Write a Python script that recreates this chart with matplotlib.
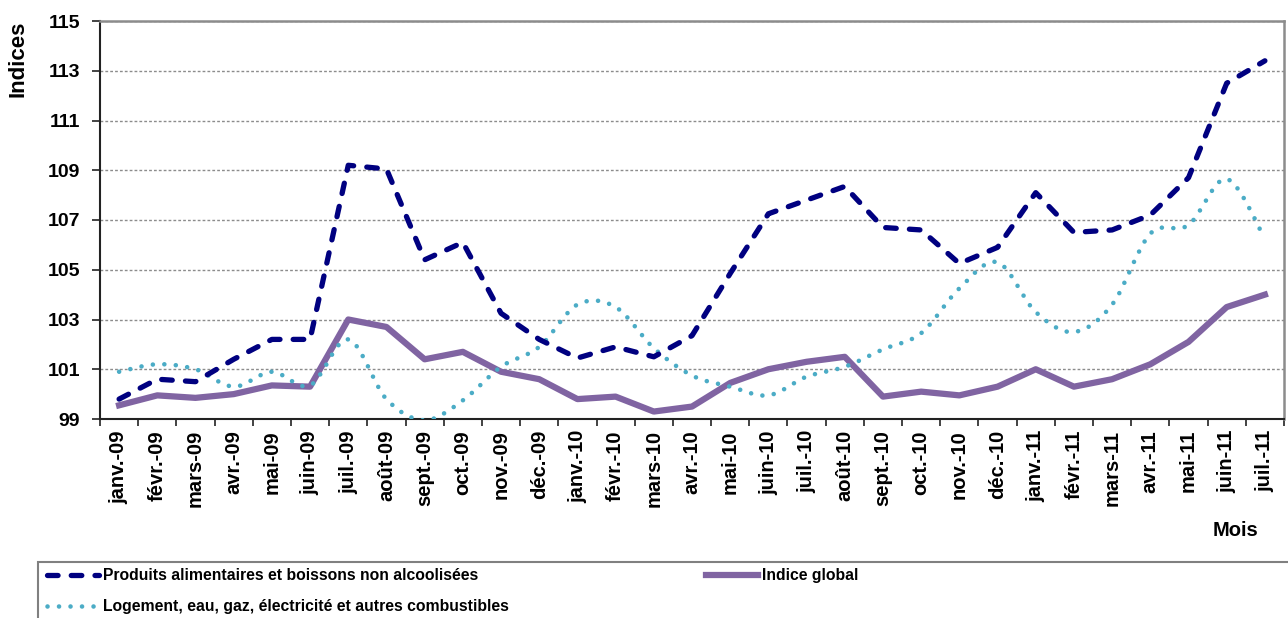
import numpy as np
import matplotlib
matplotlib.use("Agg")
import matplotlib.pyplot as plt
from matplotlib.path import Path
from matplotlib.patches import PathPatch, Rectangle
from matplotlib.lines import Line2D
from matplotlib.font_manager import FontProperties

plt.rcParams['font.family'] = ['Liberation Sans', 'DejaVu Sans']

mois = ["janv.-09", "févr.-09", "mars-09", "avr.-09", "mai-09", "juin-09", "juil.-09",
        "août-09", "sept.-09", "oct.-09", "nov.-09", "déc.-09",
        "janv.-10", "févr.-10", "mars-10", "avr.-10", "mai-10", "juin-10", "juil.-10",
        "août-10", "sept.-10", "oct.-10", "nov.-10", "déc.-10",
        "janv.-11", "févr.-11", "mars-11", "avr.-11", "mai-11", "juin-11", "juil.-11"]

alimentaire = [99.8, 100.6, 100.5, 101.4, 102.2, 102.2, 109.2, 109.05, 105.4, 106.1, 103.25, 102.2,
               101.45, 101.9, 101.5, 102.35, 104.85, 107.25, 107.8, 108.35, 106.7, 106.6, 105.25, 105.9,
               108.1, 106.5, 106.6, 107.2, 108.7, 112.5, 113.4]
logement = [100.9, 101.2, 101.0, 100.3, 100.9, 100.35, 102.2, 99.8, 98.95, 99.75, 101.1, 101.9,
            103.6, 103.5, 101.85, 100.75, 100.3, 99.95, 100.7, 101.1, 101.8, 102.45, 104.25, 105.3,
            103.3, 102.5, 103.6, 106.45, 106.8, 108.65, 106.25]
indice_global = [99.55, 99.95, 99.85, 100.0, 100.35, 100.3, 103.0, 102.7, 101.4, 101.7, 100.9, 100.6,
                 99.8, 99.9, 99.3, 99.5, 100.45, 101.0, 101.3, 101.5, 99.9, 100.1, 99.95, 100.3,
                 101.0, 100.3, 100.6, 101.2, 102.1, 103.5, 104.0]

labels = ["Produits alimentaires et boissons non alcoolisées",
          "Logement, eau, gaz, électricité et autres combustibles",
          "Indice global"]

c_alim = '#000080'
c_log = '#4BACC6'
c_glob = '#8064A2'


def smooth_path(xs, ys):
    # courbe lissée façon Excel (Bezier passant par les points)
    pts = np.column_stack([xs, ys]).astype(float)
    n = len(pts)
    verts = [pts[0]]
    codes = [Path.MOVETO]
    for i in range(n - 1):
        p0 = pts[i - 1] if i > 0 else pts[i]
        p1 = pts[i]
        p2 = pts[i + 1]
        p3 = pts[i + 2] if i + 2 < n else pts[i + 1]
        verts += [p1 + (p2 - p0) / 6, p2 - (p3 - p1) / 6, p2]
        codes += [Path.CURVE4] * 3
    return Path(verts, codes)


fig = plt.figure(figsize=(12.88, 6.18), dpi=100)
ax = fig.add_axes([100 / 1288, 199 / 618, 1184 / 1288, 398 / 618])

x = np.arange(len(mois))

dots = (0, (0.01, 2.5))
dashes = (0, (2.0, 2.5))

ax.add_patch(PathPatch(smooth_path(x, logement), fill=False, edgecolor=c_log, lw=3.3,
                       linestyle=dots, capstyle='round', zorder=3))
h_alim, = ax.plot(x, alimentaire, color=c_alim, lw=3.8, linestyle=dashes,
                  dash_capstyle='round', zorder=4)
h_glob, = ax.plot(x, indice_global, color=c_glob, lw=4.5, solid_joinstyle='round', zorder=2)
h_log = Line2D([], [], color=c_log, lw=3.3, linestyle=dots, dash_capstyle='round')

ax.set_xlim(-0.5, len(mois) - 0.5)
ax.set_ylim(99, 115)
ax.set_yticks(np.arange(99, 116, 2))
ax.set_xticks(np.arange(-0.5, len(mois), 1))
ax.set_xticklabels([])
ax.set_xticks(x, minor=True)
ax.set_xticklabels(mois, minor=True, rotation=90, fontweight='bold', fontsize=14.5)
ax.tick_params(axis='x', which='major', length=5, width=1.2, color='#222222', direction='out')
ax.tick_params(axis='x', which='minor', length=0, pad=8)
ax.tick_params(axis='y', length=6, width=1.2, color='#222222', pad=8.5)
for t in ax.get_yticklabels():
    t.set_fontweight('bold')
    t.set_fontsize(14)

ax.yaxis.grid(True, color='#8c8c8c', linestyle=(0, (2, 1.5)), lw=1)
ax.set_axisbelow(True)

for s in ['left', 'bottom']:
    ax.spines[s].set_color('#222222')
    ax.spines[s].set_linewidth(1.5)
for s in ['top', 'right']:
    ax.spines[s].set_color('#8c8c8c')
    ax.spines[s].set_linewidth(1.8)

fig.text(18 / 1288, 1 - 59 / 618, "Indices", rotation=90, ha='center', va='center',
         fontweight='bold', fontsize=16)
fig.text(1236 / 1288, 1 - 531 / 618, "Mois", ha='center', va='center',
         fontweight='bold', fontsize=14.5)

fig.legend([h_alim, h_log, h_glob], labels, loc='upper left',
           bbox_to_anchor=(47 / 1288, 1 - 568 / 618), bbox_transform=fig.transFigure,
           ncol=2, frameon=False, prop=FontProperties(weight='bold', size=11.3),
           handlelength=3.3, handletextpad=0.25, columnspacing=12.6, borderpad=0,
           borderaxespad=0, labelspacing=1.05)
fig.patches.append(Rectangle((38 / 1288, -0.1), 1.2, 0.1 + (618 - 562) / 618,
                             transform=fig.transFigure, fill=False,
                             edgecolor='#808080', lw=1.5))

fig.savefig('out.png', dpi=100)
